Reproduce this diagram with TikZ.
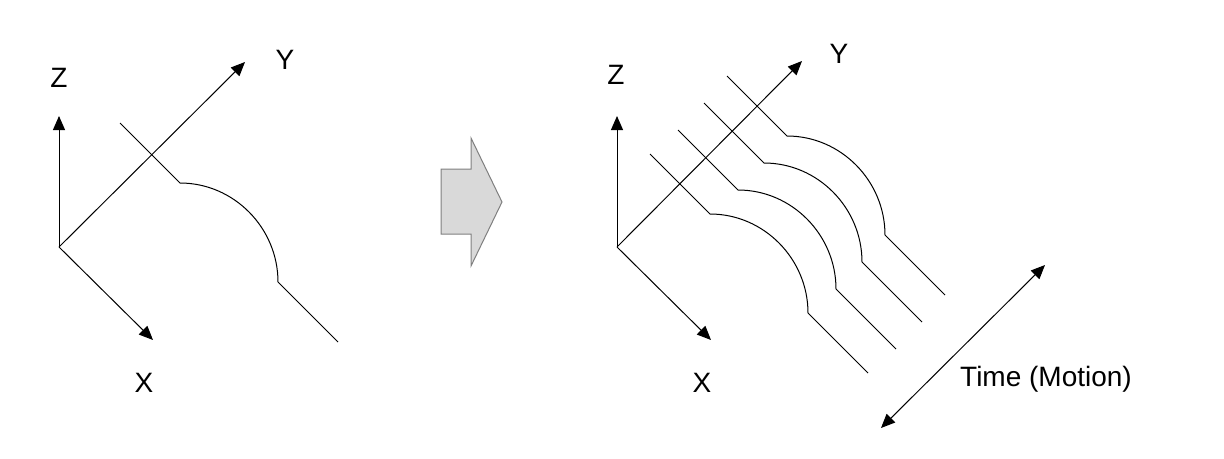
\documentclass[tikz,border=0pt]{standalone}
\usepackage{fontspec}
\setmainfont{Liberation Sans}
\usetikzlibrary{arrows.meta}
\definecolor{blockfill}{HTML}{D9D9D9}
\definecolor{blockline}{HTML}{7F7F7F}
\begin{document}
\begin{tikzpicture}[x=1pt,y=-1pt,
  axis/.style={line width=1pt,-{Triangle[length=14pt,width=12pt]}},
  wavepart/.style={line width=1pt,line join=miter},
  lbl/.style={font=\fontsize{28}{32}\selectfont,inner sep=0pt,anchor=center},
  wave/.pic={\draw[wavepart] (0,0) -- (60,60) .. controls (114,60) and (158,105) .. (158,159) -- (218,219);}
]
\useasboundingbox (0,0) rectangle (1224,458);
% ---- left diagram ----
\coordinate (oL) at (59,247);
\coordinate (zL) at (59,116);
\coordinate (yL) at (245,62);
\coordinate (xL) at (153,340);
\draw[axis] (oL) -- (zL);
\draw[axis] (oL) -- (yL);
\draw[axis] (oL) -- (xL);
\node[lbl] (ZL) at (59,78) {Z};
\node[lbl] (YL) at (285,60) {Y};
\node[lbl] (XL) at (144,383) {X};
\pic at (120,123) {wave};
% ---- block arrow ----
\draw[fill=blockfill,draw=blockline,line width=1pt]
  (441,169) -- (471,169) -- (471,138) -- (502,202) -- (471,266) -- (471,234) -- (441,234) -- cycle;
% ---- right diagram ----
\coordinate (oR) at (617,247);
\coordinate (zR) at (617,116);
\coordinate (yR) at (802,61);
\coordinate (xR) at (711,340);
\draw[axis] (oR) -- (zR);
\draw[axis] (oR) -- (yR);
\draw[axis] (oR) -- (xR);
\node[lbl] (ZR) at (616,75) {Z};
\node[lbl] (YR) at (839,54) {Y};
\node[lbl] (XR) at (702,383) {X};
\pic at (650,154) {wave};
\pic at (678,130) {wave};
\pic at (704,103) {wave};
\pic at (727,76) {wave};
% ---- time arrow ----
\coordinate (t1) at (881,428);
\coordinate (t2) at (1045,265);
\draw[line width=1pt,{Triangle[length=14pt,width=12pt]}-{Triangle[length=14pt,width=12pt]}] (t1) -- (t2);
\node[font=\fontsize{28}{32}\selectfont,inner sep=0pt,anchor=base west] (time) at (960,386) {Time (Motion)};
\end{tikzpicture}
\end{document}
